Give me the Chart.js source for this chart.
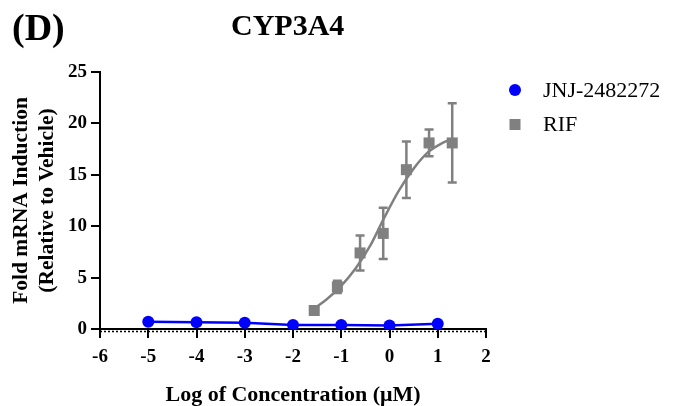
<!DOCTYPE html>
<html>
<head>
<meta charset="utf-8">
<script src="https://cdn.jsdelivr.net/npm/chart.js@4/dist/chart.umd.min.js"></script>
<style>
  html, body { margin: 0; padding: 0; background: #fff; }
  #wrap { position: relative; width: 685px; height: 406px; }
</style>
</head>
<body>
<div id="wrap"><canvas id="chart" width="685" height="406"></canvas></div>
<script>
// log10 of concentration (uM)
const jnjLogConc = [-5, -4, -3, -2, -1, 0, 1];
const jnjFold = [0.7, 0.65, 0.6, 0.4, 0.4, 0.35, 0.5];

const rifLogConc = [-1.56, -1.08, -0.61, -0.13, 0.35, 0.82, 1.30];
const rifFold = [1.8, 4.1, 7.4, 9.3, 15.5, 18.1, 18.1];
const rifErr = [0, 0.6, 1.7, 2.5, 2.75, 1.3, 3.85];

// fitted RIF dose-response curve
const fitLogConc = [-1.56, -1.3, -1.0, -0.7, -0.4, -0.1, 0.2, 0.5, 0.8, 1.1, 1.3];
const fitFold = [2.0, 2.9, 4.2, 5.9, 8.1, 10.9, 13.5, 15.6, 17.2, 18.1, 18.5];

const yTicks = [0, 5, 10, 15, 20, 25];
const xTicks = [-6, -5, -4, -3, -2, -1, 0, 1, 2];

const BLUE = '#0000ff';
const GREY = '#808080';
const SERIF = '"Liberation Serif", "Times New Roman", serif';

const toXY = (xs, ys) => xs.map((x, i) => ({x, y: ys[i]}));

const errorBars = {
    id: 'errorBars',
    afterDatasetsDraw(chart) {
        const {ctx, scales: {x, y}} = chart;
        ctx.save();
        ctx.strokeStyle = GREY;
        ctx.lineWidth = 2.5;
        rifLogConc.forEach((c, i) => {
            if (!rifErr[i]) return;
            const px = x.getPixelForValue(c);
            const hi = y.getPixelForValue(rifFold[i] + rifErr[i]);
            const lo = y.getPixelForValue(rifFold[i] - rifErr[i]);
            ctx.beginPath();
            ctx.moveTo(px, hi); ctx.lineTo(px, lo);
            ctx.moveTo(px - 4.5, hi); ctx.lineTo(px + 4.5, hi);
            ctx.moveTo(px - 4.5, lo); ctx.lineTo(px + 4.5, lo);
            ctx.stroke();
        });
        ctx.restore();
    }
};

// dotted baseline at y = 0 plus panel letter, title and legend
const decorations = {
    id: 'decorations',
    afterDraw(chart) {
        const {ctx, chartArea, scales: {y}} = chart;
        ctx.save();
        const y0 = y.getPixelForValue(0) + 2.5;
        ctx.strokeStyle = '#000';
        ctx.lineWidth = 1.5;
        ctx.setLineDash([2, 2]);
        ctx.beginPath();
        ctx.moveTo(chartArea.left, y0);
        ctx.lineTo(chartArea.right, y0);
        ctx.stroke();
        ctx.setLineDash([]);

        ctx.fillStyle = '#000';
        ctx.textBaseline = 'middle';
        ctx.textAlign = 'left';
        ctx.font = 'bold 38px ' + SERIF;
        ctx.fillText('(D)', 12, 30);
        ctx.font = 'bold 30px ' + SERIF;
        ctx.fillText('CYP3A4', 231, 27);

        // legend
        ctx.font = '22px ' + SERIF;
        const sets = [chart.data.datasets[0], chart.data.datasets[1]];
        sets.forEach((ds, i) => {
            const cy = 90 + i * 34.5;
            ctx.fillStyle = ds.backgroundColor;
            ctx.beginPath();
            if (ds.pointStyle === 'rect') {
                ctx.rect(515 - 5.5, cy - 5.5, 11, 11);
            } else {
                ctx.arc(515, cy, 6, 0, Math.PI * 2);
            }
            ctx.fill();
            ctx.fillStyle = '#000';
            ctx.fillText(ds.label, 543, cy + 1);
        });
        ctx.restore();
    }
};

const tickFont = {family: SERIF, size: 19, weight: 'bold'};

new Chart(document.getElementById('chart').getContext('2d'), {
    type: 'scatter',
    data: {
        datasets: [
            {
                label: 'JNJ-2482272',
                data: toXY(jnjLogConc, jnjFold),
                showLine: true,
                borderColor: BLUE,
                backgroundColor: BLUE,
                borderWidth: 2.5,
                pointStyle: 'circle',
                pointRadius: 6,
                pointBorderWidth: 0,
                order: 1
            },
            {
                label: 'RIF',
                data: toXY(rifLogConc, rifFold),
                showLine: false,
                borderColor: GREY,
                backgroundColor: GREY,
                pointStyle: 'rect',
                pointRadius: 7.8,
                pointBorderWidth: 0,
                order: 2
            },
            {
                label: 'RIF fit',
                data: toXY(fitLogConc, fitFold),
                showLine: true,
                borderColor: GREY,
                borderWidth: 2.5,
                pointRadius: 0,
                cubicInterpolationMode: 'monotone',
                order: 3
            }
        ]
    },
    options: {
        responsive: false,
        animation: false,
        layout: {padding: {top: 72, right: 199, left: 0, bottom: 0}},
        plugins: {legend: {display: false}, tooltip: {enabled: false}},
        scales: {
            x: {
                type: 'linear',
                min: -6, max: 2,
                afterFit(scale) { scale.height = 77; },
                afterBuildTicks(scale) { scale.ticks = xTicks.map(v => ({value: v})); },
                border: {color: '#000', width: 2},
                grid: {drawOnChartArea: false, color: '#000', lineWidth: 2, tickLength: 9},
                ticks: {color: '#000', font: tickFont, padding: 8},
                title: {
                    display: true,
                    text: 'Log of Concentration (\u03bcM)',
                    color: '#000',
                    font: {family: SERIF, size: 22, weight: 'bold', lineHeight: 1},
                    padding: {top: 0, bottom: 0}
                }
            },
            y: {
                type: 'linear',
                min: 0, max: 25,
                afterFit(scale) { scale.width = 100; },
                afterBuildTicks(scale) { scale.ticks = yTicks.map(v => ({value: v})); },
                border: {color: '#000', width: 2},
                grid: {drawOnChartArea: false, color: '#000', lineWidth: 2, tickLength: 9},
                ticks: {color: '#000', font: tickFont, padding: 4},
                title: {
                    display: true,
                    text: ['Fold mRNA Induction', '(Relative to Vehicle)'],
                    color: '#000',
                    font: {family: SERIF, size: 21.5, weight: 'bold', lineHeight: 1.22},
                    padding: {top: 8, bottom: 0}
                }
            }
        }
    },
    plugins: [errorBars, decorations]
});
</script>
</body>
</html>
